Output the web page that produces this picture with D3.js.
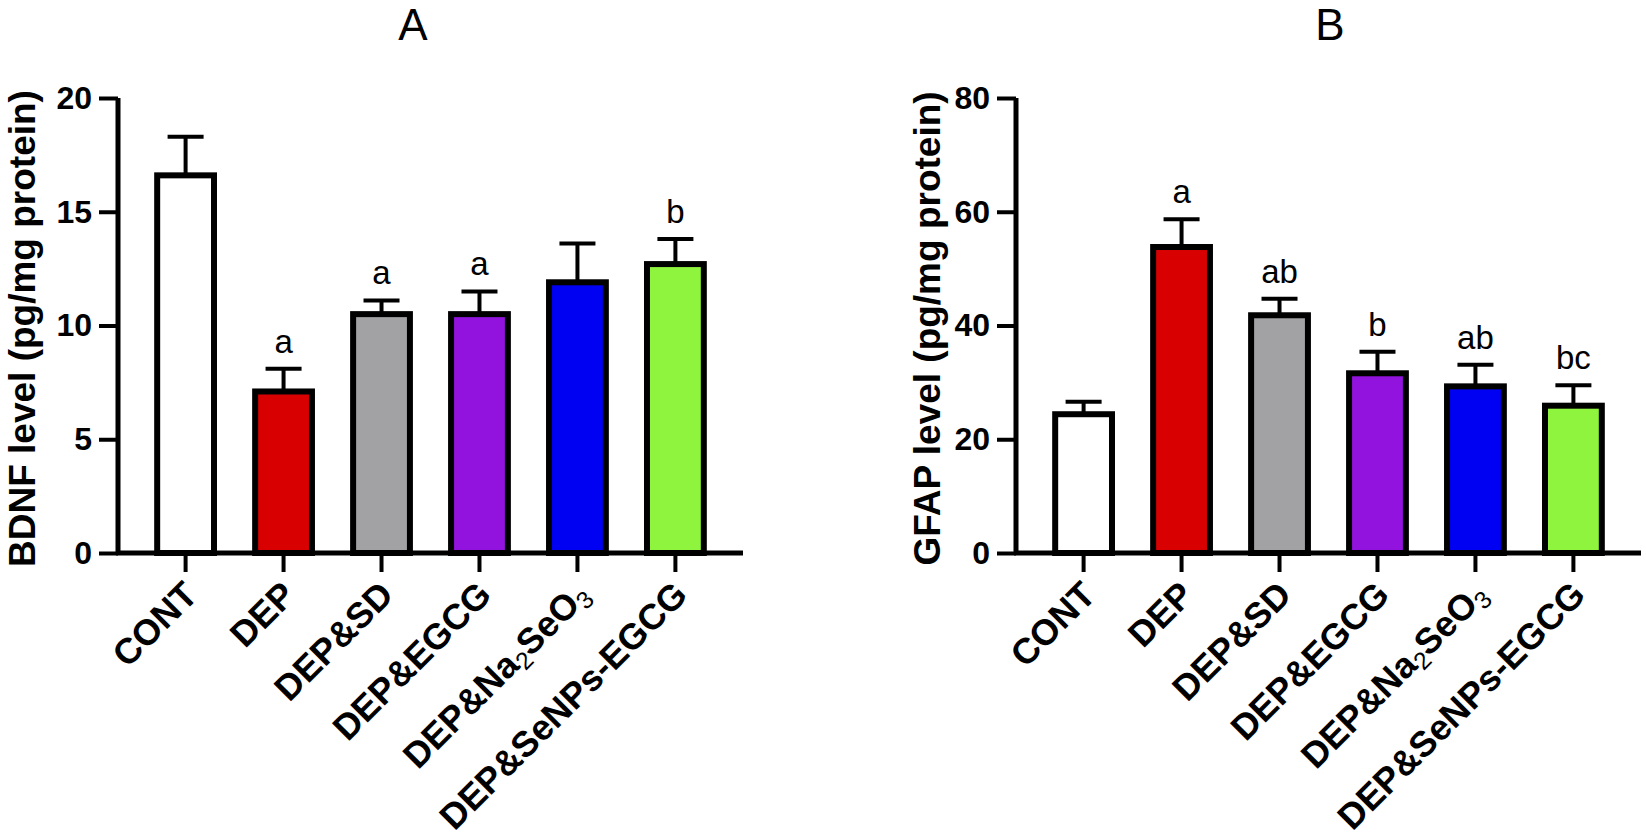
<!DOCTYPE html>
<html>
<head>
<meta charset="utf-8">
<script src="https://cdn.jsdelivr.net/npm/d3@7"></script>
<style>
  html, body { margin: 0; padding: 0; background: #fff; }
  svg { display: block; font-family: 'Liberation Sans', Arial, sans-serif; }
</style>
</head>
<body>
<div id="root"></div>
<script>
// groups shared by both panels
const groups = ['CONT', 'DEP', 'DEP&SD', 'DEP&EGCG', 'DEP&Na2SeO3', 'DEP&SeNPs-EGCG'];
const barColors = ['#ffffff', '#d80000', '#a2a2a5', '#9213dd', '#0000f2', '#8ff43d'];

// panel A: BDNF
const bdnfMean = [16.6, 7.1, 10.5, 10.5, 11.9, 12.7];
const bdnfErr = [1.7, 1.0, 0.6, 1.0, 1.7, 1.1];
const bdnfLetters = ['', 'a', 'a', 'a', '', 'b'];
const bdnfTicks = [0, 5, 10, 15, 20];

// panel B: GFAP
const gfapMean = [24.4, 53.8, 41.8, 31.6, 29.3, 25.9];
const gfapErr = [2.2, 4.9, 2.9, 3.8, 3.8, 3.6];
const gfapLetters = ['', 'a', 'ab', 'b', 'ab', 'bc'];
const gfapTicks = [0, 20, 40, 60, 80];

const width = 1646;
const height = 836;

const svg = d3.select('#root')
  .append('svg')
  .attr('width', width)
  .attr('height', height);

const panels = [
  {
    title: 'A', titleX: 413, axisX: 118, axisEnd: 743, labelX: 35,
    yLabel: 'BDNF level (pg/mg protein)', max: 20,
    mean: bdnfMean, err: bdnfErr, letters: bdnfLetters, ticks: bdnfTicks,
  },
  {
    title: 'B', titleX: 1330, axisX: 1016, axisEnd: 1641, labelX: 940,
    yLabel: 'GFAP level (pg/mg protein)', max: 80,
    mean: gfapMean, err: gfapErr, letters: gfapLetters, ticks: gfapTicks,
  },
];

const yBottom = 553;
const yTop = 98;

// label with chemical subscripts, e.g. Na2SeO3
function writeLabel(sel, label) {
  const parts = label.split(/(\d)/).filter(p => p);
  parts.forEach(p => {
    if (/\d/.test(p)) {
      sel.append('tspan')
        .attr('font-weight', 'normal')
        .attr('font-size', '0.68em')
        .attr('baseline-shift', '-0.25em')
        .text(p);
    } else {
      sel.append('tspan').text(p);
    }
  });
}

panels.forEach(p => {
  const g = svg.append('g');

  const x = d3.scaleBand()
    .domain(groups)
    .range([p.axisX, p.axisEnd])
    .paddingInner(0.42)
    .paddingOuter(0.4);

  const y = d3.scaleLinear()
    .domain([0, p.max])
    .range([yBottom, yTop]);

  const rows = groups.map((name, i) => ({
    name, mean: p.mean[i], err: p.err[i], letter: p.letters[i], color: barColors[i],
  }));

  // error bars first so the bar outline covers their foot
  const eb = g.selectAll('g.err')
    .data(rows)
    .enter()
    .append('g')
    .attr('class', 'err')
    .attr('stroke', '#000')
    .attr('stroke-width', 4);

  eb.append('line')
    .attr('x1', d => x(d.name) + x.bandwidth() / 2)
    .attr('x2', d => x(d.name) + x.bandwidth() / 2)
    .attr('y1', d => y(d.mean))
    .attr('y2', d => y(d.mean + d.err));

  eb.append('line')
    .attr('x1', d => x(d.name) + x.bandwidth() / 2 - 18)
    .attr('x2', d => x(d.name) + x.bandwidth() / 2 + 18)
    .attr('y1', d => y(d.mean + d.err))
    .attr('y2', d => y(d.mean + d.err));

  g.selectAll('rect.bar')
    .data(rows)
    .enter()
    .append('rect')
    .attr('class', 'bar')
    .attr('x', d => x(d.name))
    .attr('y', d => y(d.mean))
    .attr('width', x.bandwidth())
    .attr('height', d => y(0) - y(d.mean))
    .attr('fill', d => d.color)
    .attr('stroke', '#000')
    .attr('stroke-width', 6);

  g.selectAll('text.letter')
    .data(rows)
    .enter()
    .append('text')
    .attr('class', 'letter')
    .attr('x', d => x(d.name) + x.bandwidth() / 2)
    .attr('y', d => y(d.mean + d.err) - 16)
    .attr('text-anchor', 'middle')
    .attr('font-size', 33)
    .text(d => d.letter);

  // y axis
  const yAxis = g.append('g')
    .attr('transform', `translate(${p.axisX},0)`)
    .call(d3.axisLeft(y).tickValues(p.ticks).tickSize(19).tickPadding(7));
  yAxis.select('.domain')
    .attr('d', `M0,${yTop}V${yBottom}`)
    .attr('stroke-width', 5);
  yAxis.selectAll('.tick line').attr('stroke-width', 4);
  yAxis.selectAll('.tick text')
    .attr('font-family', 'Liberation Sans, Arial, sans-serif')
    .attr('font-size', 32)
    .attr('font-weight', 'bold')
    .attr('fill', '#000');

  // x axis
  const xAxis = g.append('g')
    .attr('transform', `translate(0,${yBottom})`)
    .call(d3.axisBottom(x).tickSize(19).tickFormat(''));
  xAxis.select('.domain')
    .attr('d', `M${p.axisX - 2},0H${p.axisEnd}`)
    .attr('stroke-width', 5);
  xAxis.selectAll('.tick line').attr('stroke-width', 4);

  g.selectAll('text.xlab')
    .data(groups)
    .enter()
    .append('text')
    .attr('class', 'xlab')
    .attr('transform', d => `translate(${x(d) + x.bandwidth() / 2 + 5},${yBottom + 35}) rotate(-45)`)
    .attr('text-anchor', 'end')
    .attr('dy', '0.35em')
    .attr('font-size', 36)
    .attr('font-weight', 'bold')
    .each(function (d) { writeLabel(d3.select(this), d); });

  g.append('text')
    .attr('transform', `translate(${p.labelX},${(yTop + yBottom) / 2 + 3}) rotate(-90)`)
    .attr('text-anchor', 'middle')
    .attr('font-size', 37)
    .attr('font-weight', 'bold')
    .text(p.yLabel);

  g.append('text')
    .attr('x', p.titleX)
    .attr('y', 40)
    .attr('text-anchor', 'middle')
    .attr('font-size', 44)
    .text(p.title);
});
</script>
</body>
</html>
